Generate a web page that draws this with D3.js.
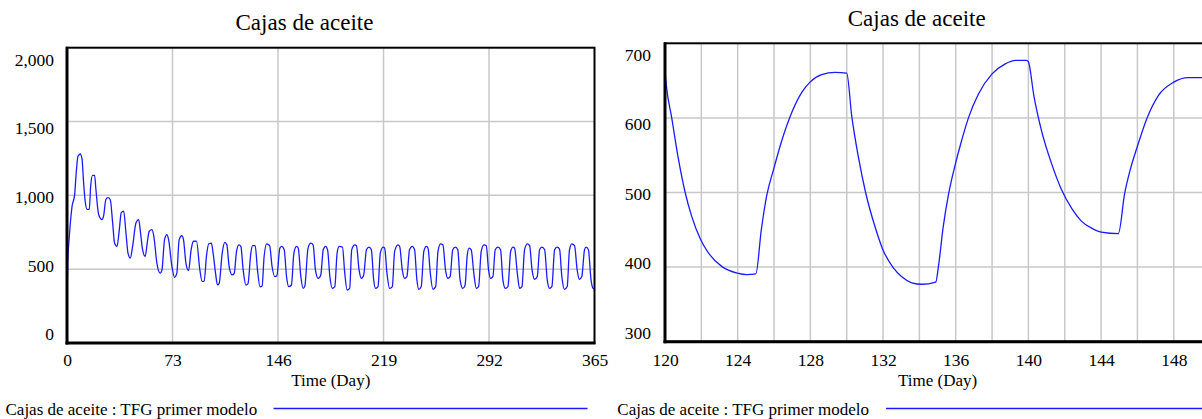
<!DOCTYPE html>
<html><head><meta charset="utf-8">
<script src="https://cdn.jsdelivr.net/npm/d3@7"></script>
<style>
html,body{margin:0;padding:0;background:#fff;overflow:hidden}
svg{display:block}
text{font-family:"Liberation Serif","Times New Roman",serif;fill:#000}
</style></head><body>
<svg id="c" width="1202" height="419"></svg>
<script>
const chartTitle = "Cajas de aceite";
const axisTitle = "Time (Day)";
const legendLabel = "Cajas de aceite : TFG primer modelo";

// [day, value]
const leftSeries = [[0,270],[0.5,540],[1.6,720],[3.5,925],[5.3,1005],[6.2,1130],[7.6,1265],[9.2,1280],[10.4,1245],[11.5,1085],[12.7,950],[14.0,905],[15.4,905],[16.4,1064],[17.7,1135],[19.1,1135],[20.0,1041],[21.9,870],[24.2,836],[25.3,859],[26.9,972],[28.3,984],[29.9,972],[31.6,813],[32.9,677],[34.6,654],[36.2,768],[37.5,881],[39.2,893],[40.8,745],[42.2,609],[43.8,575],[45.4,654],[47.7,813],[49.6,836],[50.9,745],[52.3,632],[54.1,586],[55.5,677],[56.9,757],[58.8,768],[60.1,722],[62.2,541],[64.5,473],[65.7,495],[67.5,700],[69.1,734],[70.3,700],[72.6,518],[74.4,445],[76.0,473],[77.6,700],[79.5,727],[80.6,700],[82.3,541],[84.1,491],[85.9,632],[87.5,689],[89.6,690],[91.9,497],[93.5,418],[94.9,418],[96.5,588],[98.1,672],[99.9,676],[101.1,609],[102.8,472],[104.1,393],[105.3,404],[107.4,609],[109.2,681],[110.6,665],[112.2,518],[114.3,461],[115.7,472],[117.3,620],[118.9,665],[120.3,654],[121.9,495],[123.8,392],[125.2,400],[127.2,609],[128.4,659],[130.2,659],[131.8,495],[133.6,380],[135.0,386],[136.4,586],[138.2,672],[140.2,660],[141.9,518],[143.8,450],[145.2,455],[147.3,643],[148.6,654],[150.3,631],[151.9,450],[153.5,382],[155.3,393],[157.0,609],[158.8,654],[160.0,643],[161.8,450],[163.4,370],[164.5,382],[166.8,643],[168.7,676],[170.3,665],[171.9,495],[173.8,438],[175.6,461],[177.3,631],[178.9,654],[180.3,631],[181.9,450],[183.6,370],[185.3,382],[186.9,609],[188.3,654],[190.6,650],[192.2,472],[193.8,359],[195.6,370],[197.0,631],[199.1,665],[200.3,659],[202.1,495],[203.7,438],[205.3,461],[207.2,631],[209.0,650],[210.6,631],[212.2,427],[213.6,370],[215.2,382],[216.8,609],[218.7,650],[219.8,643],[221.4,472],[223.3,370],[225.1,382],[226.7,620],[229.0,665],[230.2,654],[232.0,495],[233.6,438],[235.2,450],[237.0,631],[238.9,654],[240.5,631],[242.1,427],[243.5,363],[245.1,382],[246.9,620],[248.6,654],[249.8,643],[251.4,472],[253.2,363],[255.1,382],[256.7,620],[258.5,672],[260.1,665],[261.9,495],[263.5,438],[265.1,450],[266.9,631],[268.8,650],[270.4,631],[272.0,427],[273.8,370],[275.4,390],[277.0,600],[278.2,643],[279.7,631],[281.5,472],[283.2,370],[284.8,382],[286.6,620],[288.5,665],[290.1,659],[291.7,495],[293.1,438],[294.7,450],[296.3,631],[298.2,650],[300.0,631],[301.6,427],[303.3,370],[305.1,382],[307.0,620],[308.6,650],[309.7,643],[311.6,472],[313.2,370],[314.8,382],[316.6,631],[318.5,672],[320.1,659],[321.8,495],[323.6,431],[325.4,450],[327.0,631],[328.6,650],[330.5,631],[332.3,427],[333.9,370],[335.5,382],[337.4,631],[339.2,650],[340.8,636],[342.4,450],[344.3,363],[346.1,382],[347.7,631],[349.3,672],[351.2,659],[353.0,495],[354.6,431],[356.2,450],[358.1,631],[359.2,650],[360.8,631],[362.6,427],[364.0,370],[365,365]];

// [day, value] (days 120-150)
const rightSeries = [[120,662],[120.08,642],[120.37,600],[120.73,546],[121.1,501],[121.47,468],[121.96,437],[122.39,419],[123.12,401],[123.98,392],[124.5,390],[125,391],[125.3,450],[125.6,496],[126,533],[126.42,569],[126.97,607],[127.52,634],[127.98,648],[128.62,658],[129.36,661],[130,660],[130.28,602],[130.64,548],[131.05,499],[131.56,454],[131.98,424],[132.57,399],[133.03,387],[133.58,379],[134.13,377],[134.9,380],[135.05,401],[135.3,452],[135.6,497],[136,540],[136.25,563],[136.7,600],[137.25,632],[138,659],[138.7,672],[139.3,677],[139.9,677],[140,675],[140.3,630],[140.7,585],[141.3,537],[141.8,505],[142.4,478],[142.9,462],[143.5,452],[144,447],[144.95,445],[145.3,499],[145.6,530],[146,562],[146.5,598],[147.15,630],[148,648],[148.8,654],[150,654]];

const leftXTicks = [0,73,146,219,292,365];
const leftYTicks = [0,500,1000,1500,2000];
const rightXTicks = [120,124,128,132,136,140,144,148];
const rightXGrid = [122,124,126,128,130,132,134,136,138,140,142,144,146,148];
const rightYTicks = [300,400,500,600,700];

const svg = d3.select("#c");
const FS = 17.5;

function panel(o) {
  const g = svg.append("g");
  const x = d3.scaleLinear().domain(o.xDomain).range([o.x0, o.x1]);
  const y = d3.scaleLinear().domain(o.yDomain).range([o.yB, o.yT]);
  // label placement scale (labels inset at the ends)
  const yl = d3.scaleLinear().domain(o.yDomain).range([o.yB - o.labBot, o.yT + o.labTop]);

  // grid
  g.append("g").selectAll("line").data(o.gridX).join("line")
    .attr("x1", d => x(d)).attr("x2", d => x(d))
    .attr("y1", o.yT).attr("y2", o.yB)
    .attr("stroke", "#c8c8c8").attr("stroke-width", 1.5);
  g.append("g").selectAll("line").data(o.gridY).join("line")
    .attr("x1", o.x0).attr("x2", o.x1)
    .attr("y1", d => y(d)).attr("y2", d => y(d))
    .attr("stroke", "#c8c8c8").attr("stroke-width", 1.5);

  // series
  const cid = "clip" + o.id;
  svg.append("clipPath").attr("id", cid).append("rect")
    .attr("x", o.x0).attr("y", o.yT - 1).attr("width", o.x1 - o.x0).attr("height", o.yB - o.yT + 2);
  const line = d3.line().x(d => x(d[0])).y(d => y(d[1])).curve(d3.curveMonotoneX);
  g.append("path").datum(o.series)
    .attr("clip-path", `url(#${cid})`)
    .attr("d", line).attr("fill", "none")
    .attr("stroke", "#1a1aff").attr("stroke-width", 1.3).attr("stroke-linejoin", "round");

  // frame
  g.append("rect").attr("x", o.x0).attr("y", o.yT).attr("width", o.x1 - o.x0).attr("height", o.yB - o.yT)
    .attr("fill", "none").attr("stroke", "#000").attr("stroke-width", 2);
  g.append("line").attr("x1", o.x0).attr("x2", o.x0).attr("y1", o.yT - 1).attr("y2", o.yB + 1.5)
    .attr("stroke", "#000").attr("stroke-width", 3);
  g.append("line").attr("x1", o.x0 - 1.5).attr("x2", o.x1 + 1).attr("y1", o.yB).attr("y2", o.yB)
    .attr("stroke", "#000").attr("stroke-width", 3);

  // y axis labels
  const ya = d3.axisLeft(yl).tickValues(o.yTicks).tickSize(0).tickPadding(0).tickFormat(d3.format(","));
  const yg = g.append("g").attr("transform", `translate(${o.yLabX},0)`).call(ya);
  yg.select(".domain").remove();
  yg.selectAll("text").attr("font-size", FS).attr("font-family", null).attr("dy", "0.33em");

  // x axis labels
  const xa = d3.axisBottom(x).tickValues(o.xTicks).tickSize(0).tickPadding(0).tickFormat(d3.format("d"));
  const xg = g.append("g").attr("transform", `translate(0,${o.xLabY})`).call(xa);
  xg.select(".domain").remove();
  xg.selectAll("text").attr("font-size", FS).attr("font-family", null).attr("dy", "0").attr("y", 0);

  // titles
  g.append("text").attr("x", o.titleX).attr("y", o.titleY).attr("text-anchor", "middle")
    .attr("font-size", 23).text(chartTitle);
  g.append("text").attr("x", (o.x0 + o.x1) / 2).attr("y", 386).attr("text-anchor", "middle")
    .attr("font-size", 17).text(axisTitle);

  // legend
  g.append("text").attr("x", o.legX).attr("y", 415).attr("font-size", 17).text(legendLabel);
  g.append("line").attr("x1", o.legL0).attr("x2", o.legL1).attr("y1", 408.5).attr("y2", 408.5)
    .attr("stroke", "#1a1aff").attr("stroke-width", 1.3);
}

panel({
  id: "L", series: leftSeries,
  xDomain: [0, 365], yDomain: [0, 2000],
  x0: 67, x1: 594.5, yT: 47.7, yB: 343,
  labTop: 11.6, labBot: 9,
  gridX: [73, 146, 219, 292], gridY: [500, 1000, 1500],
  xTicks: leftXTicks, yTicks: leftYTicks,
  yLabX: 54, xLabY: 366,
  titleX: 304.5, titleY: 30,
  legX: 5.5, legL0: 273.5, legL1: 587.5
});

panel({
  id: "R", series: rightSeries,
  xDomain: [120, 150], yDomain: [300, 700],
  x0: 665, x1: 1210.1, yT: 43.3, yB: 341.7,
  labTop: 11.4, labBot: 9.2,
  gridX: rightXGrid, gridY: [400, 500, 600],
  xTicks: rightXTicks, yTicks: rightYTicks,
  yLabX: 651, xLabY: 366,
  titleX: 916.7, titleY: 26,
  legX: 617.3, legL0: 886, legL1: 1202
});
</script>
</body></html>
